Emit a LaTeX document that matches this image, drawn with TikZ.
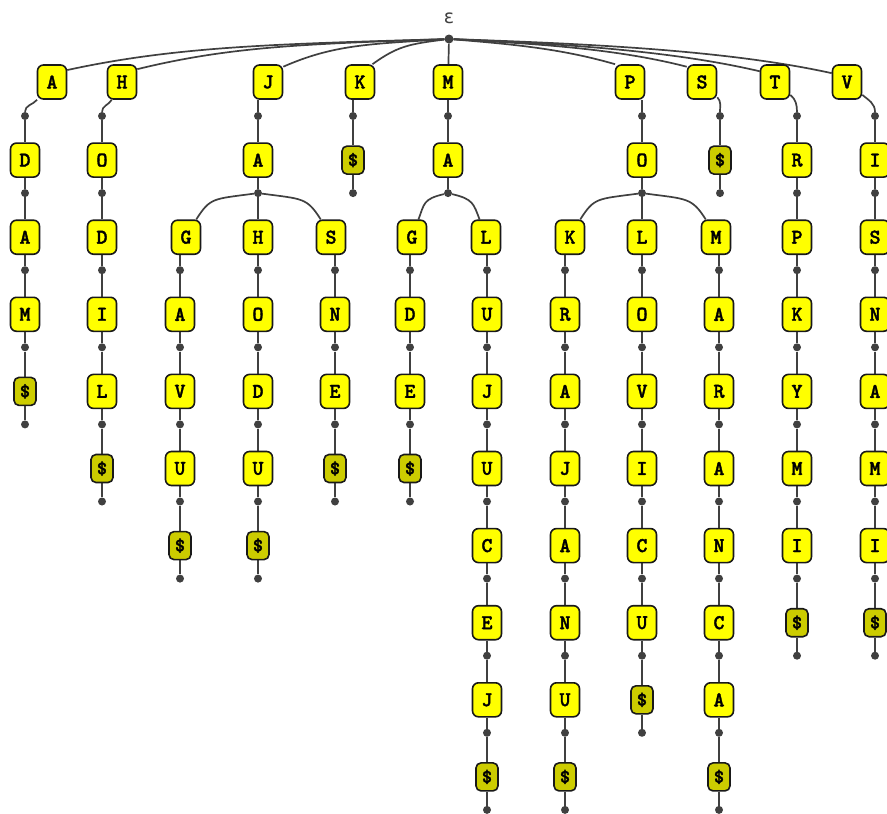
\documentclass[tikz,border=0pt]{standalone}
\usepackage{fontspec}
\newfontfamily\dejavu{DejaVu Sans}
\newfontfamily\cour{lmmonolt10-bold}[Extension=.otf, FakeBold=1.6]
\usetikzlibrary{backgrounds}
\pgfdeclarelayer{bgzero}
\pgfsetlayers{bgzero,background,main}
\definecolor{ylw}{RGB}{255,255,0}
\definecolor{olv}{RGB}{204,204,0}
\definecolor{edgec}{RGB}{64,64,64}
\definecolor{bord}{RGB}{25,25,25}
\tikzset{
 lbox/.style={draw=bord, line width=1.6pt, fill=ylw, rounded corners=6pt, minimum width=29pt, minimum height=34pt, inner sep=0pt, font=\cour\fontsize{21}{21}\selectfont},
 dbox/.style={lbox, fill=olv, minimum width=22pt, minimum height=28pt, rounded corners=5pt, font=\cour\fontsize{19}{19}\selectfont},
 jdot/.style={circle, fill=edgec, inner sep=0pt, minimum size=8pt},
 conn/.style={draw=edgec, line width=1.7pt},
}
\newcommand\mychain[5]{%
  \foreach \l [count=\i from 0] in {#4} {
    \pgfmathsetmacro\yy{83+77.1*(#3+\i-1)}
    \node[lbox] (#1-\i) at (#2,\yy) {\l};
    \node[jdot] (#1-\i-d) at (#2,\yy+33) {};
    \xdef\mylast{\i}
  }
  \pgfmathtruncatemacro\mk{\mylast+1}
  \pgfmathsetmacro\yy{83+77.1*(#3+\mk-1)}
  \node[dbox] (#1-\mk) at (#2,\yy) {\$};
  \node[jdot] (#1-\mk-d) at (#2,\yy+33) {};
  \begin{pgfonlayer}{background}
    \draw[conn] (#5) -- (#1-0);
    \foreach \i in {0,...,\mylast} {
      \pgfmathtruncatemacro\k{\i+1}
      \draw[conn] (#1-\i) -- (#1-\i-d) -- (#1-\k);
    }
    \draw[conn] (#1-\mk) -- (#1-\mk-d);
  \end{pgfonlayer}
}
\begin{document}
\begin{tikzpicture}[x=1pt,y=-1pt]
\begin{pgfonlayer}{bgzero}
\fill[white] (0,0) rectangle (887,814);
\end{pgfonlayer}
\useasboundingbox (0,0) rectangle (887,814);
% root
\node[jdot, minimum size=9pt] (r) at (449,39) {};
\node[font=\dejavu\fontsize{19}{19}\selectfont, text=edgec] (eps) at (449,18) {ε};
% level 1
\node[lbox] (A) at (52,82) {A};
\node[lbox] (H) at (122,82) {H};
\node[lbox] (J) at (268,82) {J};
\node[lbox] (K) at (360,82) {K};
\node[lbox] (M) at (448,82) {M};
\node[lbox] (P) at (630,82) {P};
\node[lbox] (S) at (702,82) {S};
\node[lbox] (T) at (775,82) {T};
\node[lbox] (V) at (847,82) {V};
\node[jdot] (dA) at (25,116) {};
\node[jdot] (dH) at (102,116) {};
\node[jdot] (dJ) at (258,116) {};
\node[jdot] (dK) at (353,116) {};
\node[jdot] (dM) at (448,116) {};
\node[jdot] (dP) at (642,116) {};
\node[jdot] (dS) at (720,116) {};
\node[jdot] (dT) at (797,116) {};
\node[jdot] (dV) at (875,116) {};
% level 2 explicit
\node[lbox] (JA) at (258,160.1) {A};
\node[jdot] (dJA) at (258,193.1) {};
\node[dbox] (KD) at (353,160.1) {\$};
\node[jdot] (dKD) at (353,193.1) {};
\node[lbox] (MA) at (448,160.1) {A};
\node[jdot] (dMA) at (448,193.1) {};
\node[lbox] (PO) at (642,160.1) {O};
\node[jdot] (dPO) at (642,193.1) {};
\node[dbox] (SD) at (720,160.1) {\$};
\node[jdot] (dSD) at (720,193.1) {};
% level 3 explicit
\node[lbox] (JAG) at (186,237.2) {G};
\node[jdot] (dJAG) at (180,270.2) {};
\node[lbox] (JAS) at (331,237.2) {S};
\node[jdot] (dJAS) at (335,270.2) {};
\node[lbox] (MAG) at (412,237.2) {G};
\node[jdot] (dMAG) at (410,270.2) {};
\node[lbox] (MAL) at (486,237.2) {L};
\node[jdot] (dMAL) at (487,270.2) {};
\node[lbox] (POK) at (570,237.2) {K};
\node[jdot] (dPOK) at (565,270.2) {};
\node[lbox] (POM) at (716,237.2) {M};
\node[jdot] (dPOM) at (719,270.2) {};
% chains
\mychain{ad}{25}{2}{D,A,M}{dA}
\mychain{ho}{102}{2}{O,D,I,L}{dH}
\mychain{jag}{180}{4}{A,V,U}{dJAG}
\mychain{jah}{258}{3}{H,O,D,U}{dJA}
\mychain{jas}{335}{4}{N,E}{dJAS}
\mychain{mag}{410}{4}{D,E}{dMAG}
\mychain{mal}{487}{4}{U,J,U,C,E,J}{dMAL}
\mychain{pok}{565}{4}{R,A,J,A,N,U}{dPOK}
\mychain{pol}{642}{3}{L,O,V,I,C,U}{dPO}
\mychain{pom}{719}{4}{A,R,A,N,C,A}{dPOM}
\mychain{tr}{797}{2}{R,P,K,Y,M,I}{dT}
\mychain{vi}{875}{2}{I,S,N,A,M,I}{dV}
\begin{pgfonlayer}{background}
% root edges
\draw[conn] (r) .. controls +(-170,5) and +(110,-24) .. (A.38);
\draw[conn] (r) .. controls +(-150,5) and +(90,-22) .. (H.40);
\draw[conn] (r) .. controls +(-80,5) and +(50,-22) .. (J.45);
\draw[conn] (r) .. controls +(-40,5) and +(25,-18) .. (K.55);
\draw[conn] (r) -- (M);
\draw[conn] (r) .. controls +(60,5) and +(-55,-16) .. (P.130);
\draw[conn] (r) .. controls +(90,5) and +(-70,-18) .. (S.135);
\draw[conn] (r) .. controls +(120,5) and +(-85,-20) .. (T.145);
\draw[conn] (r) .. controls +(150,5) and +(-100,-22) .. (V.150);
% level 1 to dots
\draw[conn] (dA) to[out=90,in=-130] (A);
\draw[conn] (dH) to[out=90,in=-120] (H);
\draw[conn] (dJ) -- (dJ |- J.south);
\draw[conn] (dK) -- (dK |- K.south);
\draw[conn] (dM) -- (M);
\draw[conn] (dP) -- (dP |- P.south);
\draw[conn] (dS) to[out=90,in=-45] (S);
\draw[conn] (dT) to[out=90,in=-40] (T);
\draw[conn] (dV) to[out=90,in=-40] (V);
% level 2
\draw[conn] (dJ) -- (JA) -- (dJA);
\draw[conn] (dK) -- (KD) -- (dKD);
\draw[conn] (dM) -- (MA) -- (dMA);
\draw[conn] (dP) -- (PO) -- (dPO);
\draw[conn] (dS) -- (SD) -- (dSD);
% branches
\draw[conn] (dJA) .. controls +(-45,6) and +(14,-22) .. (JAG.60);
\draw[conn] (dJA) .. controls +(45,6) and +(-14,-22) .. (JAS.120);
\draw[conn] (dMA) .. controls +(-25,6) and +(6,-16) .. (MAG.70);
\draw[conn] (dMA) .. controls +(25,6) and +(-6,-16) .. (MAL.110);
\draw[conn] (dPO) .. controls +(-45,6) and +(14,-22) .. (POK.60);
\draw[conn] (dPO) .. controls +(45,6) and +(-14,-22) .. (POM.120);
% offset nodes to dots
\draw[conn] (dJAG) -- (dJAG |- JAG.south);
\draw[conn] (dJAS) -- (dJAS |- JAS.south);
\draw[conn] (dMAG) -- (dMAG |- MAG.south);
\draw[conn] (dMAL) -- (dMAL |- MAL.south);
\draw[conn] (dPOK) -- (dPOK |- POK.south);
\draw[conn] (dPOM) -- (dPOM |- POM.south);
\end{pgfonlayer}
\end{tikzpicture}
\end{document}
